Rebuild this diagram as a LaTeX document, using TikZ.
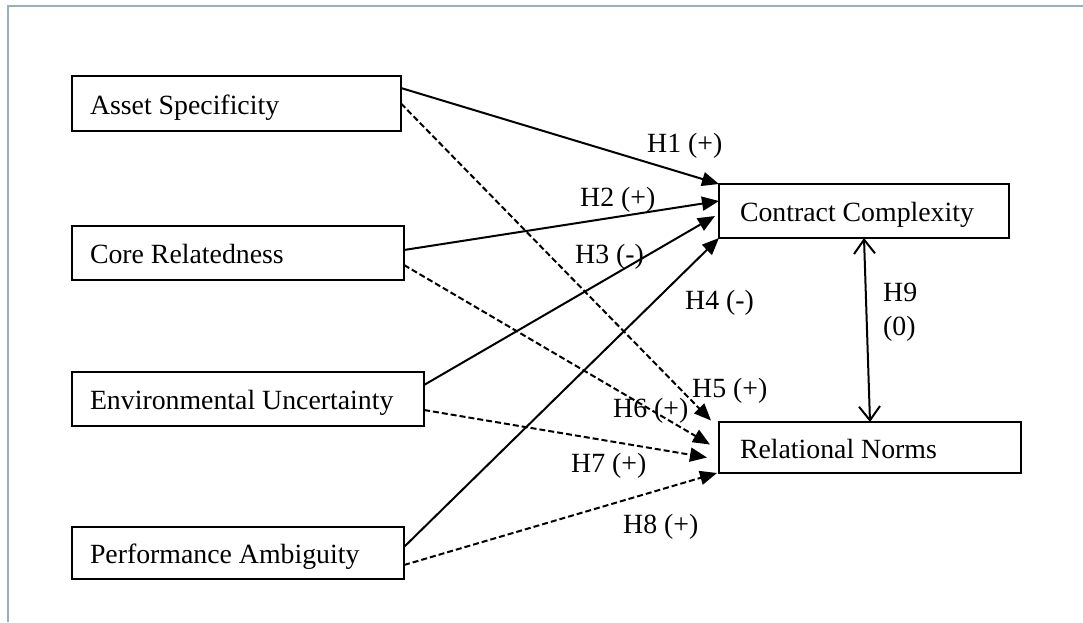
\documentclass[tikz,border=0pt]{standalone}
\usepackage{fontspec}
\setmainfont{Liberation Serif}
\usetikzlibrary{arrows.meta,calc}
\definecolor{framecol}{RGB}{152,176,182}
\begin{document}
\begin{tikzpicture}[x=1pt,y=-1pt,
  font=\fontsize{27.8}{34}\selectfont,
  box/.style={draw, line width=2pt, rectangle, anchor=north west,
    inner xsep=18pt, inner ysep=0pt, outer sep=0pt, align=left,
    text height=21pt, text depth=0pt,
    execute at begin node={\spaceskip=0pt\xspaceskip=0pt\relax}},
  lbl/.style={anchor=base west, inner sep=0pt},
  solidarrow/.style={line width=2pt, -{Triangle[length=17pt,width=14pt]}},
  dasharrow/.style={solidarrow, dash pattern=on 6pt off 3pt},
  bothbarb/.style={line width=2pt,
    {Straight Barb[length=14pt,width=21pt,line width=2pt]}-{Straight Barb[length=14pt,width=21pt,line width=2pt]}}
]
\useasboundingbox (0,0) rectangle (1083,622);
\draw[framecol, line width=2.2pt] (8,622) -- (8,6) -- (1083,6);

\node[box, minimum width=329pt, minimum height=55pt, text width=293pt] (asset) at (72,76) {Asset Specificity};
\node[box, minimum width=332pt, minimum height=54pt, text width=296pt] (core) at (72,226) {Core Relatedness};
\node[box, minimum width=352pt, minimum height=54pt, text width=316pt] (env) at (72,372) {Environmental Uncertainty};
\node[box, minimum width=332pt, minimum height=52pt, text width=296pt] (perf) at (72,527) {Performance Ambiguity};
\node[box, minimum width=290pt, minimum height=54pt, inner xsep=21pt, text width=248pt] (cc) at (719,184) {Contract Complexity};
\node[box, minimum width=302pt, minimum height=51pt, inner xsep=21pt, text width=260pt] (rn) at (719,422) {Relational Norms};

% solid
\draw[solidarrow] ([yshift=15.5pt]asset.east) -- (cc.north west);
\draw[solidarrow] ([yshift=3pt]core.east) -- ([yshift=10pt]cc.west);
\draw[solidarrow] ([yshift=14pt]env.east) -- ([xshift=-4pt,yshift=-5pt]cc.west);
\draw[solidarrow] ([yshift=6pt]perf.east) -- (cc.south west);
% dashed
\draw[dasharrow] (asset.east) -- ([xshift=-8pt,yshift=27pt]rn.west);
\draw[dasharrow] ([yshift=-12pt]core.east) -- ([xshift=-9pt,yshift=3pt]rn.west);
\draw[dasharrow] ([yshift=-11pt]env.east) -- ([xshift=-12pt,yshift=-10pt]rn.west);
\draw[dasharrow] ([yshift=-12pt]perf.east) -- ([xshift=-2pt]rn.south west);
% H9
\draw[bothbarb] (cc.south) -- (rn.north);

\node[lbl] (l1) at (647,152) {H1 (+)};
\node[lbl] (l2) at (580,206) {H2 (+)};
\node[lbl] (l3) at (575,263) {H3 (-)};
\node[lbl] (l4) at (685,309) {H4 (-)};
\node[lbl] (l5) at (692,397) {H5 (+)};
\node[lbl] (l6) at (613,417) {H6 (+)};
\node[lbl] (l7) at (571,472) {H7 (+)};
\node[lbl] (l8) at (623,533) {H8 (+)};
\node[lbl, align=left] (l9) at (883,335) {H9\\(0)};
\end{tikzpicture}
\end{document}
